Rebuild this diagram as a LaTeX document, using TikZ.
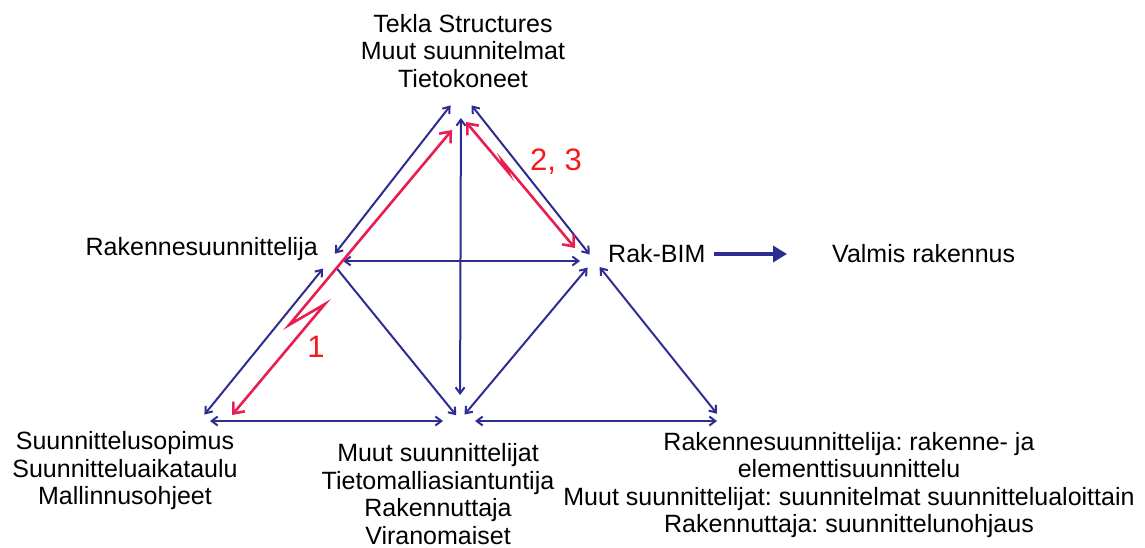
\documentclass[tikz,border=0pt]{standalone}
\usepackage{fontspec}
\setmainfont{Liberation Sans}
\usepackage{tikz}
\usetikzlibrary{arrows.meta}
\definecolor{navylink}{RGB}{45,45,145}
\definecolor{redlink}{RGB}{232,30,80}
\definecolor{rednum}{RGB}{245,25,25}
\frenchspacing

\begin{document}
\begin{tikzpicture}[x=1pt,y=-1pt,
	lbl/.style={font=\fontsize{25}{27.5}\selectfont, align=center, inner sep=0pt},
	num/.style={font=\fontsize{31}{31}\selectfont, text=rednum, inner sep=0pt},
	link/.style={navylink, line width=2pt,
		{Straight Barb[length=6pt,width=9pt]}-{Straight Barb[length=6pt,width=9pt]}},
	redlinks/.style={redlink, line width=2.6pt, line join=miter,
		{Straight Barb[length=9pt,width=15pt]}-{Straight Barb[length=9pt,width=15pt]}}]
				\useasboundingbox (0,0) rectangle (1145,548);
				% corners of the triangles
				\coordinate (top) at (461,92);
				\coordinate (rs) at (330,260);
				\coordinate (rb) at (594,260);
				\coordinate (bl) at (200,420);
				\coordinate (bm) at (460,420);
				\coordinate (br) at (722,420);
				% texts
				\node[lbl] (tekla) at (463,51) {Tekla Structures\\Muut suunnitelmat\\Tietokoneet};
				\node[lbl, anchor=east] (rakenne) at (318,249) {Rakennesuunnittelija};
				\node[lbl, anchor=west] (bim) at (608,254) {Rak-BIM};
				\node[lbl, anchor=west] (valmis) at (832,254) {Valmis rakennus};
				\node[lbl] (sopimus) at (125,471) {Suunnittelusopimus\\Suunnitteluaikataulu\\Mallinnusohjeet};
				\node[lbl] (muut) at (438,494) {Muut suunnittelijat\\Tietomalliasiantuntija\\Rakennuttaja\\Viranomaiset};
				\node[lbl] (tehtavat) at (849,485) {Rakennesuunnittelija: rakenne- ja\\elementtisuunnittelu\\Muut suunnittelijat: suunnitelmat suunnittelualoittain\\Rakennuttaja: suunnittelunohjaus};
				% blue links
				\draw[link, shorten <=8pt, shorten >=17pt] (rs) -- (top);
				\draw[link, shorten <=17pt, shorten >=7pt] (top) -- (rb);
				\draw[link, shorten <=26pt, shorten >=25pt] (top) -- (bm);
				\draw[link, shorten <=13pt, shorten >=14pt] ([yshift=-1pt]rs) -- ([yshift=-1pt]rb);
				\draw[link, shorten <=11pt, shorten >=7pt] (rs) -- (bl);
				\draw[link, -{Straight Barb[length=6pt,width=9pt]}, shorten <=11pt, shorten >=6pt] (rs) -- (bm);
				\draw[link, shorten <=7pt, shorten >=10pt] (bm) -- (rb);
				\draw[link, shorten <=9pt, shorten >=8pt] (rb) -- (br);
				\draw[link, shorten <=10pt, shorten >=17pt] ([yshift=-1pt]bl) -- ([yshift=-1pt]bm);
				\draw[link, shorten <=15pt, shorten >=5pt] ([yshift=-1pt]bm) -- ([yshift=-1pt]br);
				\draw[navylink, line width=4pt, -{Triangle[length=14pt,width=16pt]}, shorten <=8pt, shorten >=45pt] (bim.east) -- (valmis.west);
				% red paths
				\coordinate (r1a) at (289,325);
				\coordinate (r1b) at (325,304);
				\coordinate (r2a) at (508,172);
				\coordinate (r2b) at (503,162);
				\draw[redlinks] (452,130) -- (r1a) -- (r1b) -- (232,415);
				\draw[redlinks] (466,122) -- (r2a) -- (r2b) -- (575,248);
				\node[num] (n1) at (316,347) {1};
				\node[num] (n23) at (556,162) {2, 3};
\end{tikzpicture}
\end{document}
